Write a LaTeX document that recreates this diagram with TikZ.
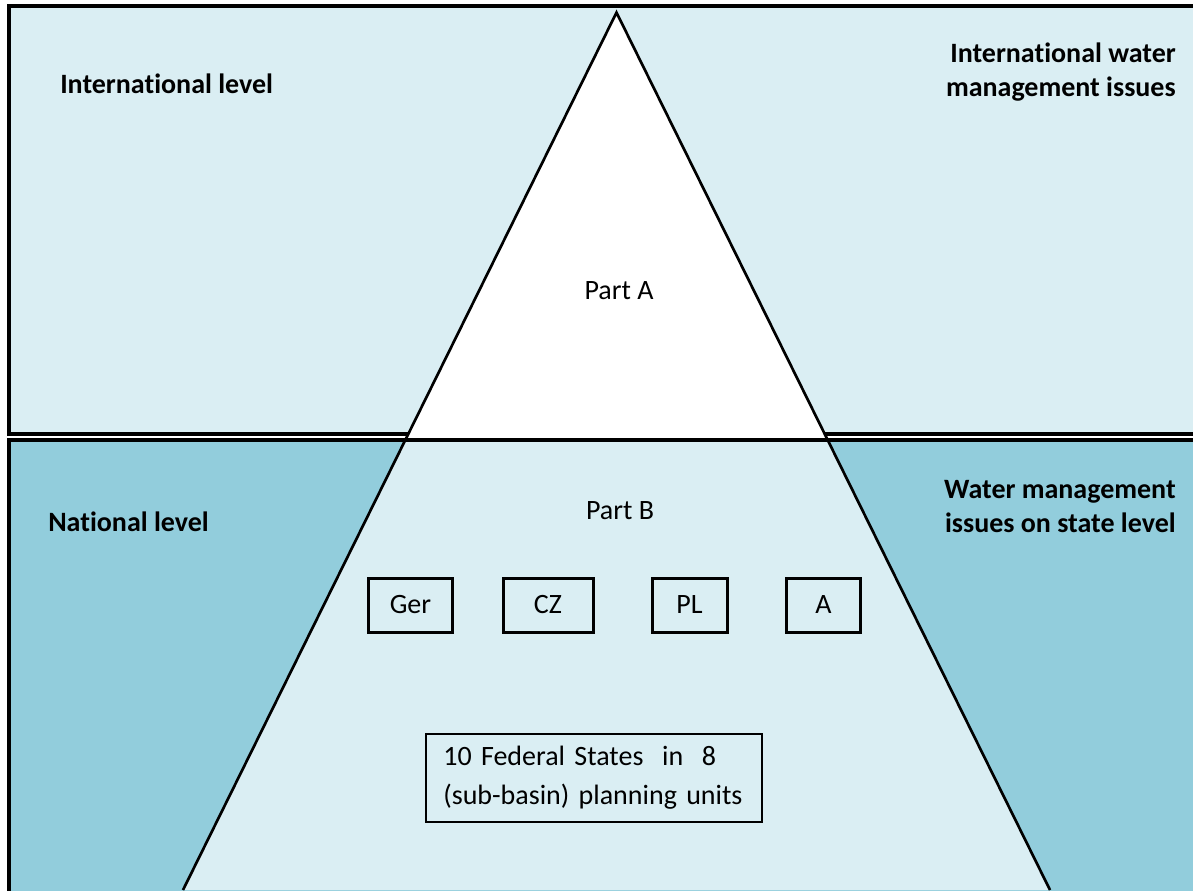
\documentclass[tikz,border=0pt]{standalone}
\usepackage{fontspec}
\setmainfont{Carlito}[Ligatures=NoCommon]
\definecolor{paleblue}{HTML}{DAEEF3}
\definecolor{deepblue}{HTML}{92CDDC}
\begin{document}
\begin{tikzpicture}[x=0.75pt,y=-0.75pt,
  frame/.style={line width=3pt},
  edge/.style={line width=2pt},
  label/.style={font=\fontsize{21}{25.5}\selectfont\bfseries, inner sep=0pt},
  plain/.style={font=\fontsize{21}{25.5}\selectfont, inner sep=0pt},
  country/.style={draw, line width=2.25pt, minimum height=40.5pt, inner sep=0pt,
                  font=\fontsize{21}{25.5}\selectfont}]
\useasboundingbox (0,0) rectangle (1193,890);
\clip (0,0) rectangle (1193,890);

% international level band
\filldraw[fill=paleblue, frame] (8.5,5.8) rectangle (1205,434);
% national level band
\fill[deepblue] (8.5,440) rectangle (1205,900);

% the pyramid: white tip above, pale trapezoid below
\coordinate (apex) at (616.5,12.5);
\coordinate (bl) at (183,890);
\coordinate (br) at (1050,890);
\fill[white] (apex) -- (405.4,440) -- (827.6,440) -- cycle;
\fill[paleblue] (405.4,440) -- (827.6,440) -- (br) -- (bl) -- cycle;

% national band frame
\draw[frame] (1205,440) -- (8.5,440) -- (8.5,900);

% pyramid sides
\draw[edge, line join=miter] (bl) -- (apex) -- (br);

% level labels
\node[label, anchor=base west] (intl) at (60,93) {International level};
\node[label, anchor=base east, align=right] (intlissues) at (1176,96)
  {International water\\management issues};
\node[label, anchor=base west] (natl) at (48,531) {National level};
\node[label, anchor=base east, align=right] (stateissues) at (1176,532)
  {Water management\\issues on state level};

\node[plain] (parta) at (619,291) {Part A};
\node[plain] (partb) at (620,511) {Part B};

% member states
\node[country, minimum width=63pt] (ger) at (410.5,605) {Ger};
\node[country, minimum width=67.5pt] (cz) at (548,605) {CZ};
\node[country, minimum width=56.25pt] (pl) at (689.5,605) {PL};
\node[country, minimum width=55.5pt] (a) at (823.5,605) {A};

% planning units
\node[draw, line width=1.5pt, minimum height=66pt, text width=226pt, inner xsep=13pt,
      align=left, font=\fontsize{21}{29.25}\selectfont] (units) at (594,778)
  {10 Federal States\ \ in\ \ 8\\(sub-basin) planning units};
\end{tikzpicture}
\end{document}
